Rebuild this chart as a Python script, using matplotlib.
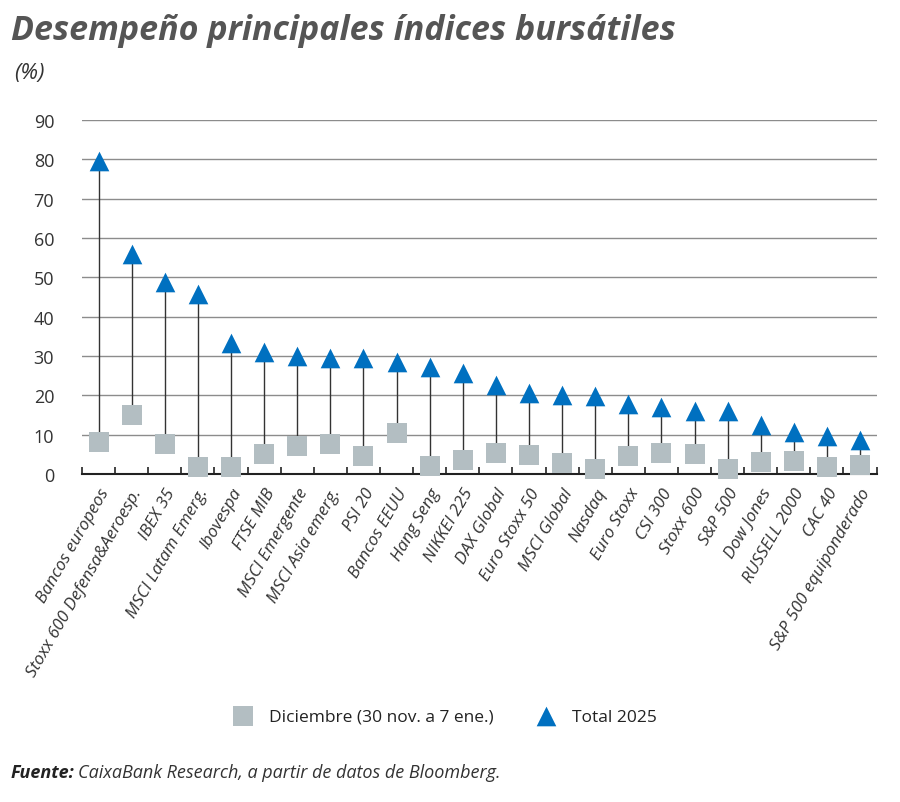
import numpy as np
import matplotlib
matplotlib.use('Agg')
import matplotlib.pyplot as plt

# data
indices = ['Bancos europeos', 'Stoxx 600 Defensa&Aeroesp.', 'IBEX 35', 'MSCI Latam Emerg.',
           'Ibovespa', 'FTSE MIB', 'MSCI Emergente', 'MSCI Asia emerg.', 'PSI 20',
           'Bancos EEUU', 'Hang Seng', 'NIKKEI 225', 'DAX Global', 'Euro Stoxx 50',
           'MSCI Global', 'Nasdaq', 'Euro Stoxx', 'CSI 300', 'Stoxx 600', 'S&P 500',
           'Dow Jones', 'RUSSELL 2000', 'CAC 40', 'S&P 500 equiponderado']
total_2025 = [79.6, 56.0, 48.8, 45.8, 33.3, 31.0, 30.0, 29.5, 29.5, 28.5, 27.2, 25.7,
              22.6, 20.6, 20.1, 19.8, 17.8, 17.0, 16.0, 16.0, 12.5, 10.7, 9.7, 8.6]
diciembre = [8.1, 15.0, 7.6, 1.8, 1.8, 5.0, 7.1, 7.6, 4.6, 10.4, 2.0, 3.6,
             5.3, 4.8, 2.8, 1.3, 4.6, 5.3, 5.0, 1.3, 3.0, 3.3, 1.8, 2.3]
yticks = [0, 10, 20, 30, 40, 50, 60, 70, 80, 90]

plt.rcParams['font.family'] = ['Open Sans', 'DejaVu Sans']

fig = plt.figure(figsize=(9, 8.03), dpi=100)
ax = fig.add_axes([0.0911, 0.4085, 0.8829, 0.4407])

x = np.arange(len(indices))
ax.vlines(x, diciembre, total_2025, color='#333333', lw=1.0, zorder=2)
ax.scatter(x, diciembre, marker='s', s=190, color='#b3bec2', zorder=3, clip_on=False,
           label='Diciembre (30 nov. a 7 ene.)', linewidths=0)
ax.scatter(x, total_2025, marker='^', s=200, color='#0070c0', zorder=4, clip_on=False,
           label='Total 2025', linewidths=0)

ax.set_xlim(-0.5, len(indices) - 0.5)
ax.set_ylim(0, 90)
ax.set_yticks(yticks)
ax.set_yticklabels([str(v) for v in yticks], fontsize=13, color='#333333')
ax.yaxis.grid(True, color='#8c8c8c', lw=1.0)
ax.set_axisbelow(True)
ax.tick_params(axis='y', length=0, pad=20)

ax.set_xticks(x)
ax.set_xticklabels(indices, rotation=60, ha='right', rotation_mode='anchor',
                   fontsize=12.3, style='italic', color='#333333')
ax.tick_params(axis='x', which='major', length=0, pad=8)
ax.set_xticks(np.arange(-0.5, len(indices)), minor=True)
ax.tick_params(axis='x', which='minor', length=5, width=1.2, direction='in', color='#222222')

for s in ['left', 'right', 'top']:
    ax.spines[s].set_visible(False)
ax.spines['bottom'].set_color('#222222')
ax.spines['bottom'].set_linewidth(1.5)

fig.text(0.012, 0.962, 'Desempeño principales índices bursátiles', fontsize=24.5,
         fontweight='bold', style='italic', color='#555555', va='center')
fig.text(0.016, 0.908, '(%)', fontsize=16, style='italic', color='#333333', va='center')

leg = fig.legend(loc='center', bbox_to_anchor=(0.49, 0.106), ncol=2, frameon=False,
                 fontsize=12.5, handletextpad=0.5, columnspacing=2.0, scatterpoints=1)
for t in leg.get_texts():
    t.set_color('#222222')

src = fig.text(0.012, 0.037, 'Fuente:', fontsize=13, fontweight='bold', style='italic',
               color='#222222', va='center')
fig.canvas.draw()
bb = src.get_window_extent().transformed(fig.transFigure.inverted())
fig.text(bb.x1 + 0.004, 0.037, 'CaixaBank Research, a partir de datos de Bloomberg.',
         fontsize=13, style='italic', color='#333333', va='center')

fig.savefig('out.png', dpi=100)
